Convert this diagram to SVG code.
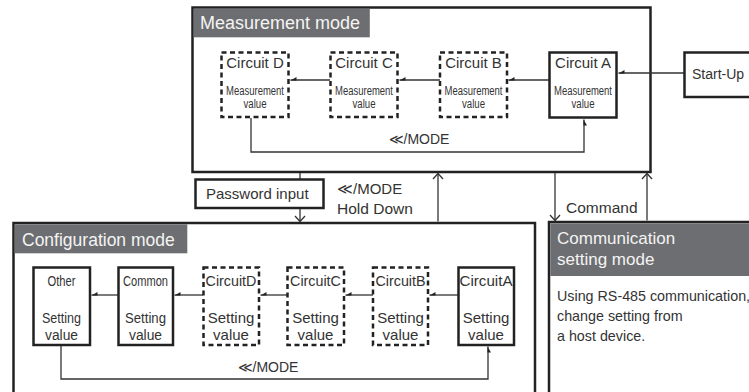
<svg xmlns="http://www.w3.org/2000/svg" width="749" height="392" viewBox="0 0 749 392">
<defs>
<style>
text{font-family:"Liberation Sans",Arial,sans-serif;fill:#333}
.frame{fill:#fff;stroke:#222;stroke-width:2.5}
.hdr{fill:#6d6e71;stroke:none}
.htxt{fill:#f4f4f4}
.solid{fill:#fff;stroke:#222;stroke-width:2.5}
.dash{fill:#fff;stroke:#222;stroke-width:2.5;stroke-dasharray:5 3.5}
.c{fill:none;stroke:#333;stroke-width:1.3}
.mid{text-anchor:middle}
</style>
<marker id="ha" viewBox="0 0 6 4" refX="6" refY="0.5" markerWidth="6" markerHeight="4" markerUnits="userSpaceOnUse" orient="auto" overflow="visible">
<path d="M6,0 L0,0 L0,3.5 z" fill="#222"/>
</marker>
<marker id="va" viewBox="-6 -6 12 12" refX="0" refY="0" markerWidth="12" markerHeight="12" markerUnits="userSpaceOnUse" orient="auto" overflow="visible">
<path d="M-5.5,-5 L0,0 L-5.5,5" fill="none" stroke="#333" stroke-width="1.3"/>
</marker>
</defs>

<!-- Mode containers -->
<g id="measurement-mode">
<rect class="frame" x="192.5" y="7.5" width="458" height="164.5"/>
<rect class="hdr" x="193.8" y="8.8" width="176" height="28.5"/>
<text class="htxt" x="200" y="29" font-size="18">Measurement mode</text>
</g>
<g id="configuration-mode">
<rect class="frame" x="13.5" y="223" width="521.5" height="180"/>
<rect class="hdr" x="14.8" y="224.3" width="172.5" height="29"/>
<text class="htxt" x="22" y="245.5" font-size="17.5">Configuration mode</text>
</g>
<g id="communication-mode">
<rect class="frame" x="549" y="222" width="220" height="180"/>
<rect class="hdr" x="550.3" y="223.3" width="210" height="52.7"/>
<text class="htxt" x="557" y="244" font-size="17">Communication</text>
<text class="htxt" x="557" y="265" font-size="17">setting mode</text>
<text x="557" y="301" font-size="14.3">Using RS-485 communication,</text>
<text x="557" y="321" font-size="14.3">change setting from</text>
<text x="557" y="341" font-size="14.3">a host device.</text>
</g>

<!-- Connectors -->
<g id="connectors">
<line class="c" x1="684" y1="73" x2="618.5" y2="73" marker-end="url(#ha)"/>
<line class="c" x1="549" y1="80" x2="508.5" y2="80" marker-end="url(#ha)"/>
<line class="c" x1="440" y1="80" x2="399.5" y2="80" marker-end="url(#ha)"/>
<line class="c" x1="330" y1="80" x2="290.5" y2="80" marker-end="url(#ha)"/>
<polyline class="c" points="251,118 251,152 584,152 584,119.5" marker-end="url(#ha)"/>
<line class="c" x1="458" y1="295" x2="429.5" y2="295" marker-end="url(#ha)"/>
<line class="c" x1="373" y1="295" x2="345.5" y2="295" marker-end="url(#ha)"/>
<line class="c" x1="287" y1="295" x2="260.5" y2="295" marker-end="url(#ha)"/>
<line class="c" x1="203" y1="295" x2="174.5" y2="295" marker-end="url(#ha)"/>
<line class="c" x1="118" y1="295" x2="91.5" y2="295" marker-end="url(#ha)"/>
<polyline class="c" points="61,346 61,379 488,379 488,346.5" marker-end="url(#ha)"/>
<line class="c" x1="300" y1="173" x2="300" y2="179"/>
<line class="c" x1="300" y1="208" x2="300" y2="221.5" marker-end="url(#va)"/>
<line class="c" x1="438" y1="221.5" x2="438" y2="173.5" marker-end="url(#va)"/>
<line class="c" x1="555" y1="173" x2="555" y2="220.5" marker-end="url(#va)"/>
<line class="c" x1="647" y1="220.5" x2="647" y2="173.5" marker-end="url(#va)"/>
<text class="mid" x="419" y="144" font-size="14">≪/MODE</text>
<text class="mid" x="268" y="372" font-size="14">≪/MODE</text>
<text x="337" y="194" font-size="15">≪/MODE</text>
<text x="337" y="214" font-size="15.5">Hold Down</text>
<text x="566" y="213" font-size="15.5">Command</text>
</g>

<!-- Measurement nodes -->
<g id="m-circuit-d">
<rect class="dash" x="221.5" y="52.5" width="67" height="64.5"/>
<text class="mid" x="255" y="68" font-size="15">Circuit D</text>
<text class="mid" x="255" y="95" font-size="12.5" textLength="58" lengthAdjust="spacingAndGlyphs">Measurement</text>
<text class="mid" x="255" y="108" font-size="12.5" textLength="23" lengthAdjust="spacingAndGlyphs">value</text>
</g>
<g id="m-circuit-c">
<rect class="dash" x="330.5" y="52.5" width="67" height="64.5"/>
<text class="mid" x="364" y="68" font-size="15">Circuit C</text>
<text class="mid" x="364" y="95" font-size="12.5" textLength="58" lengthAdjust="spacingAndGlyphs">Measurement</text>
<text class="mid" x="364" y="108" font-size="12.5" textLength="23" lengthAdjust="spacingAndGlyphs">value</text>
</g>
<g id="m-circuit-b">
<rect class="dash" x="440" y="52.5" width="67" height="64.5"/>
<text class="mid" x="473.5" y="68" font-size="15">Circuit B</text>
<text class="mid" x="473.5" y="95" font-size="12.5" textLength="58" lengthAdjust="spacingAndGlyphs">Measurement</text>
<text class="mid" x="473.5" y="108" font-size="12.5" textLength="23" lengthAdjust="spacingAndGlyphs">value</text>
</g>
<g id="m-circuit-a">
<rect class="solid" x="549.5" y="52.5" width="67" height="65"/>
<text class="mid" x="583" y="68" font-size="15">Circuit A</text>
<text class="mid" x="583" y="95" font-size="12.5" textLength="58" lengthAdjust="spacingAndGlyphs">Measurement</text>
<text class="mid" x="583" y="108" font-size="12.5" textLength="23" lengthAdjust="spacingAndGlyphs">value</text>
</g>
<g id="start-up">
<rect class="solid" x="684.5" y="52.5" width="80" height="44.5"/>
<text x="692" y="79" font-size="14">Start-Up</text>
</g>
<g id="password-input">
<rect class="solid" x="195.5" y="179.5" width="128" height="28.5"/>
<text x="206" y="198.5" font-size="15">Password input</text>
</g>

<!-- Configuration nodes -->
<g id="c-other">
<rect class="solid" x="33.5" y="267.5" width="56.5" height="77.5"/>
<text class="mid" x="61.5" y="285.5" font-size="15" textLength="28" lengthAdjust="spacingAndGlyphs">Other</text>
<text class="mid" x="61.5" y="323" font-size="15.5" textLength="39" lengthAdjust="spacingAndGlyphs">Setting</text>
<text class="mid" x="61.5" y="340" font-size="15.5" textLength="33" lengthAdjust="spacingAndGlyphs">value</text>
</g>
<g id="c-common">
<rect class="solid" x="118.5" y="267.5" width="54.5" height="77.5"/>
<text class="mid" x="145.5" y="285.5" font-size="15" textLength="45" lengthAdjust="spacingAndGlyphs">Common</text>
<text class="mid" x="145.5" y="323" font-size="15.5" textLength="41" lengthAdjust="spacingAndGlyphs">Setting</text>
<text class="mid" x="145.5" y="340" font-size="15.5" textLength="33" lengthAdjust="spacingAndGlyphs">value</text>
</g>
<g id="c-circuit-d">
<rect class="dash" x="203.5" y="267.5" width="55.5" height="77.5"/>
<text class="mid" x="231" y="285.5" font-size="14.3">CircuitD</text>
<text class="mid" x="231" y="323" font-size="15">Setting</text>
<text class="mid" x="231" y="340" font-size="15">value</text>
</g>
<g id="c-circuit-c">
<rect class="dash" x="287.5" y="267.5" width="56.5" height="77.5"/>
<text class="mid" x="315.5" y="285.5" font-size="14.3">CircuitC</text>
<text class="mid" x="315.5" y="323" font-size="15">Setting</text>
<text class="mid" x="315.5" y="340" font-size="15">value</text>
</g>
<g id="c-circuit-b">
<rect class="dash" x="373" y="267.5" width="55" height="77.5"/>
<text class="mid" x="400.5" y="285.5" font-size="14.3">CircuitB</text>
<text class="mid" x="400.5" y="323" font-size="15">Setting</text>
<text class="mid" x="400.5" y="340" font-size="15">value</text>
</g>
<g id="c-circuit-a">
<rect class="solid" x="458.5" y="267.5" width="55.5" height="77.5"/>
<text class="mid" x="486" y="285.5" font-size="14.3" textLength="53" lengthAdjust="spacingAndGlyphs">CircuitA</text>
<text class="mid" x="486" y="323" font-size="15">Setting</text>
<text class="mid" x="486" y="340" font-size="15">value</text>
</g>
</svg>
